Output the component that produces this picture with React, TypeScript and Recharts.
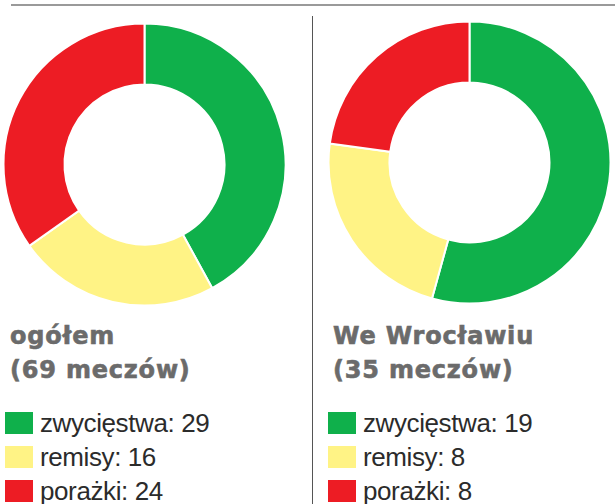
import { PieChart, Pie, Cell, Legend } from 'recharts'

const labels = ['zwycięstwa', 'remisy', 'porażki']
const colors = ['#0fb04b', '#fff385', '#ed1c24']

const overallTitle = ['ogółem', '(69 meczów)']
const overallValues = [29, 16, 24]

const wroclawTitle = ['We Wrocławiu', '(35 meczów)']
const wroclawValues = [19, 8, 8]

const toRows = (values: number[]) =>
  labels.map((name, i) => ({ name, value: values[i], color: colors[i] }))

function LegendBox({ title, rows }: { title: string[]; rows: { name: string; value: number; color: string }[] }) {
  return (
    <div>
      <div
        style={{
          fontFamily: 'DejaVu Sans',
          fontWeight: 'bold',
          fontSize: 24,
          lineHeight: '34px',
          letterSpacing: 0.8,
          color: '#6b6b6b',
          WebkitTextStroke: '0.6px #6b6b6b',
          paddingLeft: 5,
        }}
      >
        {title.map((t) => (
          <div key={t}>{t}</div>
        ))}
      </div>
      <div style={{ marginTop: 19 }}>
        {rows.map((r) => (
          <div key={r.name} style={{ display: 'flex', alignItems: 'center', height: 34 }}>
            <div style={{ width: 28, height: 22, background: r.color, marginRight: 7 }} />
            <span
              style={{
                fontFamily: 'Liberation Sans',
                fontSize: 26,
                color: '#2b2b2b',
                letterSpacing: -0.4,
              }}
            >
              {r.name}: {r.value}
            </span>
          </div>
        ))}
      </div>
    </div>
  )
}

function Donut({ title, values, cx, cy }: { title: string[]; values: number[]; cx: number; cy: number }) {
  const rows = toRows(values)
  return (
    <PieChart width={302} height={504} margin={{ top: 0, right: 0, bottom: 0, left: 0 }}>
      <Pie
        data={rows}
        dataKey="value"
        nameKey="name"
        cx={cx}
        cy={cy}
        innerRadius={80}
        outerRadius={141}
        startAngle={90}
        endAngle={-270}
        stroke="#ffffff"
        strokeWidth={2}
        isAnimationActive={false}
      >
        {rows.map((r) => (
          <Cell key={r.name} fill={r.color} />
        ))}
      </Pie>
      <Legend
        verticalAlign="bottom"
        content={() => <LegendBox title={title} rows={rows} />}
        wrapperStyle={{ top: 319, left: 5, bottom: 'auto', width: 295 }}
      />
    </PieChart>
  )
}

export default function App() {
  return (
    <div style={{ position: 'absolute', left: 0, top: 0, width: 615, height: 504, overflow: 'hidden', background: '#fff' }}>
      <div style={{ position: 'absolute', left: 11, top: 4, width: 604, height: 2, background: '#9a9a9a' }} />
      <div style={{ position: 'absolute', left: 312, top: 16, width: 1, height: 488, background: '#555' }} />
      <div style={{ position: 'absolute', left: 0, top: 0 }}>
        <Donut title={overallTitle} values={overallValues} cx={144.5} cy={164.5} />
      </div>
      <div style={{ position: 'absolute', left: 323, top: 0 }}>
        <Donut title={wroclawTitle} values={wroclawValues} cx={146.5} cy={162.5} />
      </div>
    </div>
  )
}
